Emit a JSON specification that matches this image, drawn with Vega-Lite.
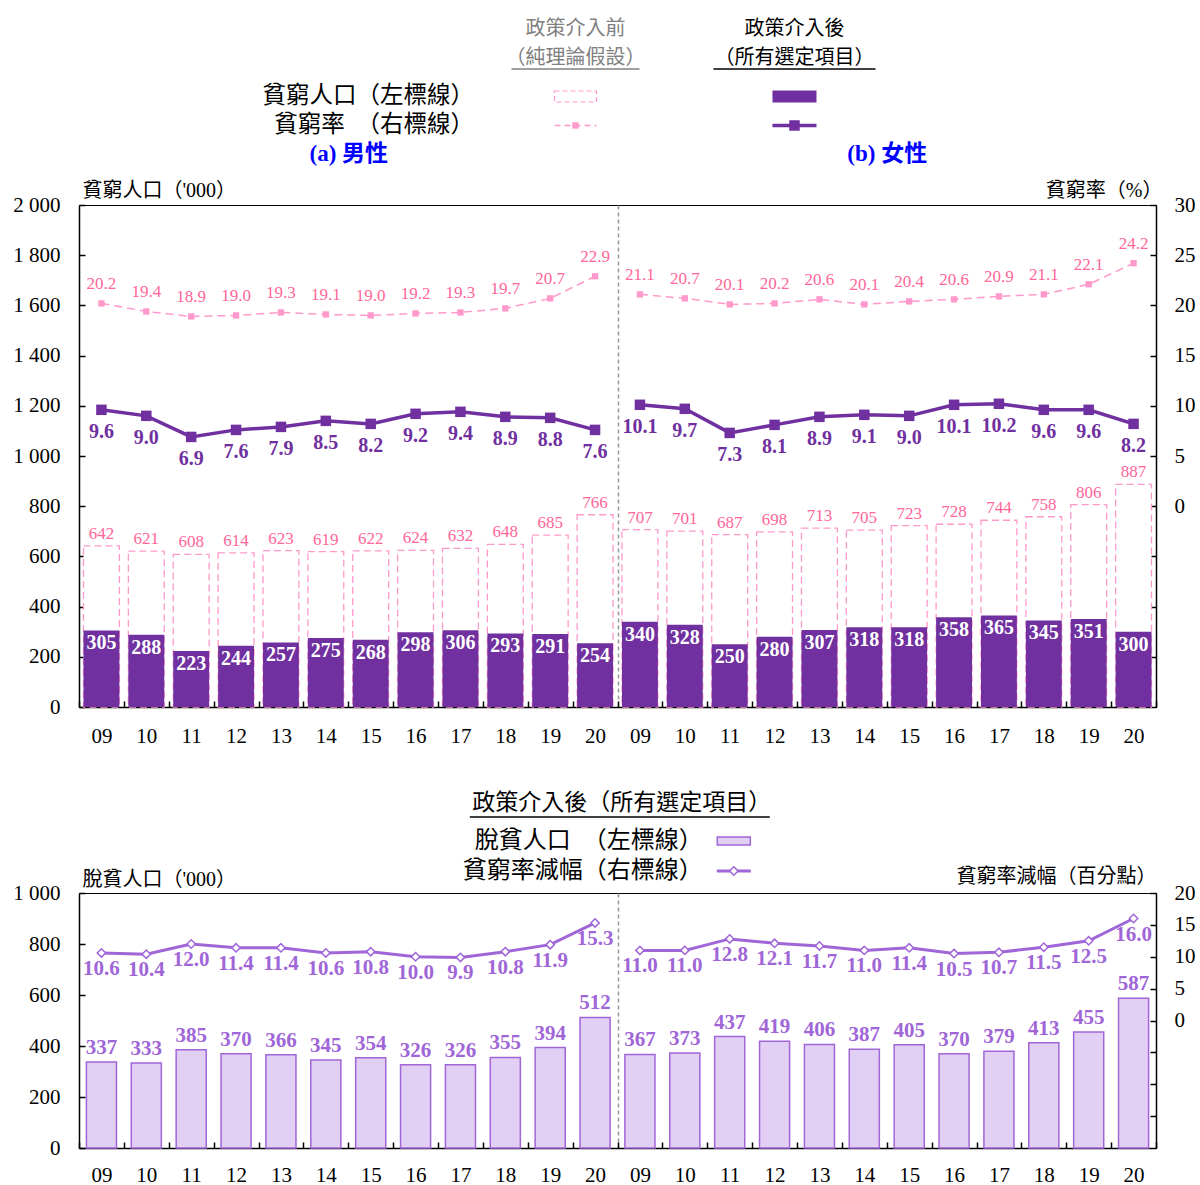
{
  "$schema": "https://vega.github.io/schema/vega-lite/v6.json",
  "padding": {"left": 12, "top": 0, "right": 0, "bottom": 0},
  "bounds": "flush",
  "spacing": 0,
  "config": {
    "font": "Liberation Serif, Noto Sans CJK TC",
    "view": {"stroke": "#000000", "strokeWidth": 1},
    "axis": {"grid": false, "domainColor": "#000000", "domainWidth": 1.5, "tickColor": "#000000", "tickWidth": 1.5, "labelColor": "#000000", "labelFontSize": 21, "titleColor": "#000000", "titleFontWeight": "normal", "titleFontSize": 20}
  },
  "datasets": {
    "main": [
      {"sex": "男性", "key": "M-09", "before_pop": 642, "after_pop": 305, "before_rate": 20.2, "after_rate": 9.6, "lifted": 337, "reduction": 10.6},
      {"sex": "男性", "key": "M-10", "before_pop": 621, "after_pop": 288, "before_rate": 19.4, "after_rate": 9.0, "lifted": 333, "reduction": 10.4},
      {"sex": "男性", "key": "M-11", "before_pop": 608, "after_pop": 223, "before_rate": 18.9, "after_rate": 6.9, "lifted": 385, "reduction": 12.0},
      {"sex": "男性", "key": "M-12", "before_pop": 614, "after_pop": 244, "before_rate": 19.0, "after_rate": 7.6, "lifted": 370, "reduction": 11.4},
      {"sex": "男性", "key": "M-13", "before_pop": 623, "after_pop": 257, "before_rate": 19.3, "after_rate": 7.9, "lifted": 366, "reduction": 11.4},
      {"sex": "男性", "key": "M-14", "before_pop": 619, "after_pop": 275, "before_rate": 19.1, "after_rate": 8.5, "lifted": 345, "reduction": 10.6},
      {"sex": "男性", "key": "M-15", "before_pop": 622, "after_pop": 268, "before_rate": 19.0, "after_rate": 8.2, "lifted": 354, "reduction": 10.8},
      {"sex": "男性", "key": "M-16", "before_pop": 624, "after_pop": 298, "before_rate": 19.2, "after_rate": 9.2, "lifted": 326, "reduction": 10.0},
      {"sex": "男性", "key": "M-17", "before_pop": 632, "after_pop": 306, "before_rate": 19.3, "after_rate": 9.4, "lifted": 326, "reduction": 9.9},
      {"sex": "男性", "key": "M-18", "before_pop": 648, "after_pop": 293, "before_rate": 19.7, "after_rate": 8.9, "lifted": 355, "reduction": 10.8},
      {"sex": "男性", "key": "M-19", "before_pop": 685, "after_pop": 291, "before_rate": 20.7, "after_rate": 8.8, "lifted": 394, "reduction": 11.9},
      {"sex": "男性", "key": "M-20", "before_pop": 766, "after_pop": 254, "before_rate": 22.9, "after_rate": 7.6, "lifted": 512, "reduction": 15.3},
      {"sex": "女性", "key": "F-09", "before_pop": 707, "after_pop": 340, "before_rate": 21.1, "after_rate": 10.1, "lifted": 367, "reduction": 11.0},
      {"sex": "女性", "key": "F-10", "before_pop": 701, "after_pop": 328, "before_rate": 20.7, "after_rate": 9.7, "lifted": 373, "reduction": 11.0},
      {"sex": "女性", "key": "F-11", "before_pop": 687, "after_pop": 250, "before_rate": 20.1, "after_rate": 7.3, "lifted": 437, "reduction": 12.8},
      {"sex": "女性", "key": "F-12", "before_pop": 698, "after_pop": 280, "before_rate": 20.2, "after_rate": 8.1, "lifted": 419, "reduction": 12.1},
      {"sex": "女性", "key": "F-13", "before_pop": 713, "after_pop": 307, "before_rate": 20.6, "after_rate": 8.9, "lifted": 406, "reduction": 11.7},
      {"sex": "女性", "key": "F-14", "before_pop": 705, "after_pop": 318, "before_rate": 20.1, "after_rate": 9.1, "lifted": 387, "reduction": 11.0},
      {"sex": "女性", "key": "F-15", "before_pop": 723, "after_pop": 318, "before_rate": 20.4, "after_rate": 9.0, "lifted": 405, "reduction": 11.4},
      {"sex": "女性", "key": "F-16", "before_pop": 728, "after_pop": 358, "before_rate": 20.6, "after_rate": 10.1, "lifted": 370, "reduction": 10.5},
      {"sex": "女性", "key": "F-17", "before_pop": 744, "after_pop": 365, "before_rate": 20.9, "after_rate": 10.2, "lifted": 379, "reduction": 10.7},
      {"sex": "女性", "key": "F-18", "before_pop": 758, "after_pop": 345, "before_rate": 21.1, "after_rate": 9.6, "lifted": 413, "reduction": 11.5},
      {"sex": "女性", "key": "F-19", "before_pop": 806, "after_pop": 351, "before_rate": 22.1, "after_rate": 9.6, "lifted": 455, "reduction": 12.5},
      {"sex": "女性", "key": "F-20", "before_pop": 887, "after_pop": 300, "before_rate": 24.2, "after_rate": 8.2, "lifted": 587, "reduction": 16.0}
    ],
    "sexes": [{"panel": "(a) 男性"}, {"panel": "(b) 女性"}],
    "leg1": [
      {"col": "前", "row": "h1", "kind": "header", "text": "政策介入前"},
      {"col": "前", "row": "h2", "kind": "header", "text": "（純理論假設）"},
      {"col": "後", "row": "h1", "kind": "header", "text": "政策介入後"},
      {"col": "後", "row": "h2", "kind": "header", "text": "（所有選定項目）"},
      {"col": "lab", "row": "r1", "kind": "label", "text": "貧窮人口（左標線）"},
      {"col": "lab", "row": "r2", "kind": "label", "text": "貧窮率　（右標線）"},
      {"col": "前", "row": "r1", "kind": "sample", "text": ""},
      {"col": "後", "row": "r1", "kind": "sample", "text": ""},
      {"col": "前", "row": "r2", "kind": "sample", "text": ""},
      {"col": "後", "row": "r2", "kind": "sample", "text": ""}
    ],
    "leg2": [
      {"col": "entry", "row": "hdr", "kind": "header", "text": "政策介入後（所有選定項目）"},
      {"col": "entry", "row": "r1", "kind": "label", "text": "脫貧人口　（左標線）"},
      {"col": "entry", "row": "r2", "kind": "label", "text": "貧窮率減幅（右標線）"},
      {"col": "entry", "row": "r1", "kind": "sample", "text": ""},
      {"col": "entry", "row": "r2", "kind": "sample", "text": ""}
    ]
  },
  "vconcat": [
    {
      "width": 1077,
      "height": 205,
      "view": {"stroke": null},
      "data": {"name": "leg1"},
      "encoding": {
        "x": {"field": "col", "type": "nominal", "scale": {"domain": ["lab", "前", "後"], "paddingInner": 0, "paddingOuter": 0.959, "align": 0.4}, "axis": null},
        "y": {"field": "row", "type": "nominal", "scale": {"domain": ["h1", "h2", "r1", "r2", "z1", "z2"], "paddingInner": 0, "paddingOuter": 0.534, "align": 0.774}, "axis": null}
      },
      "layer": [
        {
          "transform": [{"filter": "datum.kind == 'header'"}],
          "mark": {"type": "text", "fontSize": 20, "yOffset": -9.5},
          "encoding": {
            "text": {"field": "text"},
            "color": {"condition": {"test": "datum.col == '前'", "value": "#808080"}, "value": "#000000"}
          }
        },
        {
          "transform": [{"filter": "datum.kind == 'header' && datum.row == 'h2' && datum.col == '前'"}],
          "mark": {"type": "rule", "color": "#808080", "strokeWidth": 1.5, "xOffset": -64, "x2Offset": 64, "yOffset": 1.5},
          "encoding": {"x2": {"field": "col"}}
        },
        {
          "transform": [{"filter": "datum.kind == 'header' && datum.row == 'h2' && datum.col == '後'"}],
          "mark": {"type": "rule", "color": "#000000", "strokeWidth": 1.5, "xOffset": -81, "x2Offset": 81, "yOffset": 1.5},
          "encoding": {"x2": {"field": "col"}}
        },
        {
          "transform": [{"filter": "datum.kind == 'label'"}],
          "mark": {"type": "text", "align": "right", "dx": 8, "fontSize": 23.5, "color": "#000000"},
          "encoding": {
            "x": {"field": "col", "type": "nominal", "bandPosition": 1},
            "text": {"field": "text"}
          }
        },
        {
          "transform": [{"filter": "datum.kind == 'sample' && datum.col == '前' && datum.row == 'r1'"}],
          "mark": {"type": "bar", "width": 42, "height": 11, "fill": "#FFFFFF", "stroke": "#FF99CC", "strokeWidth": 1.2, "strokeDash": [5, 3]}
        },
        {
          "transform": [{"filter": "datum.kind == 'sample' && datum.col == '後' && datum.row == 'r1'"}],
          "mark": {"type": "bar", "width": 44, "height": 12, "fill": "#7030A0"}
        },
        {
          "transform": [{"filter": "datum.kind == 'sample' && datum.col == '前' && datum.row == 'r2'"}],
          "mark": {"type": "rule", "color": "#FF99CC", "strokeWidth": 1.5, "strokeDash": [6, 4], "xOffset": -21, "x2Offset": 21},
          "encoding": {"x2": {"field": "col"}}
        },
        {
          "transform": [{"filter": "datum.kind == 'sample' && datum.col == '前' && datum.row == 'r2'"}],
          "mark": {"type": "point", "shape": "square", "filled": true, "size": 40, "color": "#FF99CC", "opacity": 1}
        },
        {
          "transform": [{"filter": "datum.kind == 'sample' && datum.col == '後' && datum.row == 'r2'"}],
          "mark": {"type": "rule", "color": "#7030A0", "strokeWidth": 3.5, "xOffset": -22, "x2Offset": 22},
          "encoding": {"x2": {"field": "col"}}
        },
        {
          "transform": [{"filter": "datum.kind == 'sample' && datum.col == '後' && datum.row == 'r2'"}],
          "mark": {"type": "point", "shape": "square", "filled": true, "size": 110, "color": "#7030A0", "opacity": 1}
        }
      ]
    },
    {
      "width": 1077,
      "height": 502,
      "layer": [
        {
          "data": {"name": "main"},
          "encoding": {
            "x": {"field": "key", "type": "nominal", "sort": null,
              "scale": {"domain": ["M-09","M-10","M-11","M-12","M-13","M-14","M-15","M-16","M-17","M-18","M-19","M-20","F-09","F-10","F-11","F-12","F-13","F-14","F-15","F-16","F-17","F-18","F-19","F-20"], "paddingInner": 0, "paddingOuter": 0},
              "axis": {"orient": "bottom", "title": null, "labelExpr": "isString(datum.value) ? substring(datum.value, 2) : ''", "labelAngle": 0, "tickBand": "extent", "tickSize": -6, "labelPadding": 24, "grid": true, "gridColor": "#999999", "gridDash": [4, 3], "gridWidth": 1.5, "gridOpacity": {"condition": {"test": "datum.value == 'M-20'", "value": 1}, "value": 0}}}
          },
          "layer": [
            {
              "layer": [
                {
                  "mark": {"type": "bar", "width": {"band": 0.8}, "fill": "#FFFFFF", "stroke": "#FF99CC", "strokeWidth": 1.3, "strokeDash": [7, 4]},
                  "encoding": {"y": {"field": "before_pop", "type": "quantitative", "scale": {"domain": [0, 2000], "nice": false},
                    "axis": {"orient": "left", "values": [0,200,400,600,800,1000,1200,1400,1600,1800,2000], "labelExpr": "replace(format(datum.value, ','), ',', ' ')", "tickSize": -6, "labelPadding": 25, "title": "貧窮人口（'000）", "titleAngle": 0, "titleAlign": "left", "titleBaseline": "middle", "titleX": 3, "titleY": -15}}}
                },
                {
                  "mark": {"type": "bar", "width": {"band": 0.8}, "fill": "#7030A0"},
                  "encoding": {"y": {"field": "after_pop", "type": "quantitative", "scale": {"domain": [0, 2000], "nice": false},
                    "axis": {"orient": "left", "values": [0,200,400,600,800,1000,1200,1400,1600,1800,2000], "labelExpr": "replace(format(datum.value, ','), ',', ' ')", "tickSize": -6, "labelPadding": 25, "title": "貧窮人口（'000）", "titleAngle": 0, "titleAlign": "left", "titleBaseline": "middle", "titleX": 3, "titleY": -15}}}
                },
                {
                  "mark": {"type": "text", "dy": -12, "color": "#FF6699", "fontSize": 17},
                  "encoding": {"y": {"field": "before_pop", "type": "quantitative", "scale": {"domain": [0, 2000], "nice": false},
                    "axis": {"orient": "left", "values": [0,200,400,600,800,1000,1200,1400,1600,1800,2000], "labelExpr": "replace(format(datum.value, ','), ',', ' ')", "tickSize": -6, "labelPadding": 25, "title": "貧窮人口（'000）", "titleAngle": 0, "titleAlign": "left", "titleBaseline": "middle", "titleX": 3, "titleY": -15}},
                    "text": {"field": "before_pop"}}
                },
                {
                  "mark": {"type": "text", "baseline": "top", "dy": 3, "color": "#FFFFFF", "fontSize": 20, "fontWeight": "bold"},
                  "encoding": {"y": {"field": "after_pop", "type": "quantitative", "scale": {"domain": [0, 2000], "nice": false},
                    "axis": {"orient": "left", "values": [0,200,400,600,800,1000,1200,1400,1600,1800,2000], "labelExpr": "replace(format(datum.value, ','), ',', ' ')", "tickSize": -6, "labelPadding": 25, "title": "貧窮人口（'000）", "titleAngle": 0, "titleAlign": "left", "titleBaseline": "middle", "titleX": 3, "titleY": -15}},
                    "text": {"field": "after_pop"}}
                }
              ]
            },
            {
              "layer": [
                {
                  "mark": {"type": "line", "color": "#FF99CC", "strokeWidth": 1.5, "strokeDash": [8, 5], "point": {"shape": "square", "filled": true, "size": 40, "color": "#FF99CC", "opacity": 1}},
                  "encoding": {"y": {"field": "before_rate", "type": "quantitative", "scale": {"domain": [-20, 30], "nice": false},
                    "axis": {"orient": "right", "values": [-15,-10,-5,0,5,10,15,20,25,30], "labelExpr": "datum.value < 0 ? '' : datum.label", "tickSize": -6, "labelPadding": 24, "title": "貧窮率（%）", "titleAngle": 0, "titleAlign": "right", "titleBaseline": "middle", "titleX": 6, "titleY": -15}},
                    "detail": {"field": "sex"}}
                },
                {
                  "mark": {"type": "line", "color": "#7030A0", "strokeWidth": 3.5, "point": {"shape": "square", "filled": true, "size": 110, "color": "#7030A0", "opacity": 1}},
                  "encoding": {"y": {"field": "after_rate", "type": "quantitative", "scale": {"domain": [-20, 30], "nice": false},
                    "axis": {"orient": "right", "values": [-15,-10,-5,0,5,10,15,20,25,30], "labelExpr": "datum.value < 0 ? '' : datum.label", "tickSize": -6, "labelPadding": 24, "title": "貧窮率（%）", "titleAngle": 0, "titleAlign": "right", "titleBaseline": "middle", "titleX": 6, "titleY": -15}},
                    "detail": {"field": "sex"}}
                },
                {
                  "mark": {"type": "text", "dy": -19, "color": "#FF6699", "fontSize": 17},
                  "encoding": {"y": {"field": "before_rate", "type": "quantitative", "scale": {"domain": [-20, 30], "nice": false},
                    "axis": {"orient": "right", "values": [-15,-10,-5,0,5,10,15,20,25,30], "labelExpr": "datum.value < 0 ? '' : datum.label", "tickSize": -6, "labelPadding": 24, "title": "貧窮率（%）", "titleAngle": 0, "titleAlign": "right", "titleBaseline": "middle", "titleX": 6, "titleY": -15}},
                    "text": {"field": "before_rate", "format": ".1f"}}
                },
                {
                  "mark": {"type": "text", "dy": 22, "color": "#7030A0", "fontSize": 20, "fontWeight": "bold"},
                  "encoding": {"y": {"field": "after_rate", "type": "quantitative", "scale": {"domain": [-20, 30], "nice": false},
                    "axis": {"orient": "right", "values": [-15,-10,-5,0,5,10,15,20,25,30], "labelExpr": "datum.value < 0 ? '' : datum.label", "tickSize": -6, "labelPadding": 24, "title": "貧窮率（%）", "titleAngle": 0, "titleAlign": "right", "titleBaseline": "middle", "titleX": 6, "titleY": -15}},
                    "text": {"field": "after_rate", "format": ".1f"}}
                }
              ]
            }
          ],
          "resolve": {"scale": {"y": "independent"}}
        },
        {
          "data": {"name": "sexes"},
          "mark": {"type": "text", "text": ""},
          "encoding": {
            "x": {"field": "panel", "type": "nominal", "sort": null, "scale": {"paddingInner": 0, "paddingOuter": 0},
              "axis": {"orient": "top", "title": null, "domain": false, "ticks": false, "labelAngle": 0, "labelColor": "#0000FF", "labelFontWeight": "bold", "labelFontSize": 23, "labelPadding": 40}}
          }
        }
      ],
      "resolve": {"scale": {"x": "independent"}}
    },
    {
      "width": 1077,
      "height": 186,
      "view": {"stroke": null},
      "data": {"name": "leg2"},
      "encoding": {
        "x": {"field": "col", "type": "nominal", "scale": {"domain": ["entry"], "paddingInner": 0, "paddingOuter": 1, "align": 0.662}, "axis": null},
        "y": {"field": "row", "type": "nominal", "scale": {"domain": ["z1", "z2", "hdr", "r1", "r2"], "paddingInner": 0, "paddingOuter": 0.6, "align": 0.806}, "axis": null}
      },
      "layer": [
        {
          "transform": [{"filter": "datum.kind == 'header'"}],
          "mark": {"type": "text", "fontSize": 23, "yOffset": -8, "dx": -112, "color": "#000000"},
          "encoding": {"text": {"field": "text"}}
        },
        {
          "transform": [{"filter": "datum.kind == 'header'"}],
          "mark": {"type": "rule", "color": "#000000", "strokeWidth": 1.5, "xOffset": -264, "x2Offset": 36, "yOffset": 6},
          "encoding": {"x2": {"field": "col"}}
        },
        {
          "transform": [{"filter": "datum.kind == 'label'"}],
          "mark": {"type": "text", "align": "right", "dx": -31, "fontSize": 24, "color": "#000000"},
          "encoding": {"text": {"field": "text"}}
        },
        {
          "transform": [{"filter": "datum.kind == 'sample' && datum.row == 'r1'"}],
          "mark": {"type": "bar", "width": 33, "height": 8, "fill": "#E2CFF4", "stroke": "#A066D8", "strokeWidth": 1.5}
        },
        {
          "transform": [{"filter": "datum.kind == 'sample' && datum.row == 'r2'"}],
          "mark": {"type": "rule", "color": "#A066D8", "strokeWidth": 3, "xOffset": -17, "x2Offset": 17},
          "encoding": {"x2": {"field": "col"}}
        },
        {
          "transform": [{"filter": "datum.kind == 'sample' && datum.row == 'r2'"}],
          "mark": {"type": "point", "shape": "diamond", "filled": true, "size": 70, "fill": "#FFFFFF", "stroke": "#A066D8", "strokeWidth": 1.5, "opacity": 1}
        }
      ]
    },
    {
      "width": 1077,
      "height": 255,
      "data": {"name": "main"},
      "encoding": {
        "x": {"field": "key", "type": "nominal", "sort": null,
          "scale": {"domain": ["M-09","M-10","M-11","M-12","M-13","M-14","M-15","M-16","M-17","M-18","M-19","M-20","F-09","F-10","F-11","F-12","F-13","F-14","F-15","F-16","F-17","F-18","F-19","F-20"], "paddingInner": 0, "paddingOuter": 0},
          "axis": {"orient": "bottom", "title": null, "labelExpr": "isString(datum.value) ? substring(datum.value, 2) : ''", "labelAngle": 0, "tickBand": "extent", "tickSize": -6, "labelPadding": 22, "grid": true, "gridColor": "#999999", "gridDash": [4, 3], "gridWidth": 1.5, "gridOpacity": {"condition": {"test": "datum.value == 'M-20'", "value": 1}, "value": 0}}}
      },
      "layer": [
        {
          "layer": [
            {
              "mark": {"type": "bar", "width": {"band": 0.67}, "fill": "#E2CFF4", "stroke": "#A066D8", "strokeWidth": 1.5},
              "encoding": {"y": {"field": "lifted", "type": "quantitative", "scale": {"domain": [0, 1000], "nice": false},
                "axis": {"orient": "left", "values": [0,200,400,600,800,1000], "labelExpr": "replace(format(datum.value, ','), ',', ' ')", "tickSize": -6, "labelPadding": 25, "title": "脫貧人口（'000）", "titleAngle": 0, "titleAlign": "left", "titleBaseline": "middle", "titleX": 3, "titleY": -14}}}
            },
            {
              "mark": {"type": "text", "dy": -14, "color": "#A066D8", "fontSize": 21, "fontWeight": "bold"},
              "encoding": {"y": {"field": "lifted", "type": "quantitative", "scale": {"domain": [0, 1000], "nice": false},
                "axis": {"orient": "left", "values": [0,200,400,600,800,1000], "labelExpr": "replace(format(datum.value, ','), ',', ' ')", "tickSize": -6, "labelPadding": 25, "title": "脫貧人口（'000）", "titleAngle": 0, "titleAlign": "left", "titleBaseline": "middle", "titleX": 3, "titleY": -14}},
                "text": {"field": "lifted"}}
            }
          ]
        },
        {
          "layer": [
            {
              "mark": {"type": "line", "color": "#A066D8", "strokeWidth": 3, "point": {"shape": "diamond", "filled": true, "size": 70, "fill": "#FFFFFF", "stroke": "#A066D8", "strokeWidth": 1.5, "opacity": 1}},
              "encoding": {"y": {"field": "reduction", "type": "quantitative", "scale": {"domain": [-20, 20], "nice": false},
                "axis": {"orient": "right", "values": [-15,-10,-5,0,5,10,15,20], "labelExpr": "datum.value < 0 ? '' : datum.label", "tickSize": -6, "labelPadding": 24, "title": "貧窮率減幅（百分點）", "titleAngle": 0, "titleAlign": "right", "titleBaseline": "middle", "titleX": 0, "titleY": -17}},
                "detail": {"field": "sex"}}
            },
            {
              "mark": {"type": "text", "dy": 16, "color": "#A066D8", "fontSize": 21, "fontWeight": "bold"},
              "encoding": {"y": {"field": "reduction", "type": "quantitative", "scale": {"domain": [-20, 20], "nice": false},
                "axis": {"orient": "right", "values": [-15,-10,-5,0,5,10,15,20], "labelExpr": "datum.value < 0 ? '' : datum.label", "tickSize": -6, "labelPadding": 24, "title": "貧窮率減幅（百分點）", "titleAngle": 0, "titleAlign": "right", "titleBaseline": "middle", "titleX": 0, "titleY": -17}},
                "text": {"field": "reduction", "format": ".1f"}}
            }
          ]
        }
      ],
      "resolve": {"scale": {"y": "independent"}}
    }
  ]
}
